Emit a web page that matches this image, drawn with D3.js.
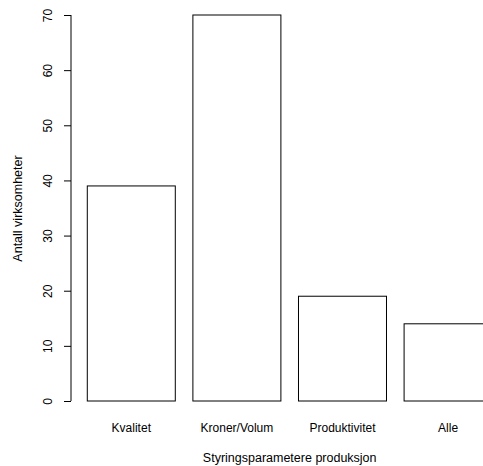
<!DOCTYPE html>
<html>
<head>
<meta charset="utf-8">
<script src="https://cdn.jsdelivr.net/npm/d3@7"></script>
<style>
  html, body { margin: 0; padding: 0; background: #fff; }
  svg { display: block; }
  text { font-family: "Liberation Sans", Arial, Helvetica, sans-serif; fill: #000; }
</style>
</head>
<body>
<svg id="chart" width="483" height="466"></svg>
<script>
const categories = ["Kvalitet", "Kroner/Volum", "Produktivitet", "Alle"];
const values = [39, 70, 19, 14];
const yTicks = [0, 10, 20, 30, 40, 50, 60, 70];
const xTitle = "Styringsparametere produksjon";
const yTitle = "Antall virksomheter";

const svg = d3.select("#chart");

// R barplot geometry: width 1, space 0.2, usr extended 4%
const n = categories.length;
const left = categories.map((d, i) => 0.2 + i * 1.2);
const xmin = 0.2, xmax = 0.2 + n * 1.2 - 0.2;
const xr = xmax - xmin;
const x = d3.scaleLinear().domain([xmin - 0.04 * xr, xmax + 0.04 * xr]).range([71.1, 71.1 + (xr * 1.08) * 88]);
const y = d3.scaleLinear().domain([0, 70]).range([401, 15]);

// bars
svg.append("g").selectAll("rect").data(values).join("rect")
  .attr("x", (d, i) => x(left[i]))
  .attr("y", d => y(d))
  .attr("width", (d, i) => x(left[i] + 1) - x(left[i]))
  .attr("height", d => y(0) - y(d))
  .attr("fill", "none")
  .attr("stroke", "#000")
  .attr("stroke-width", 1);

// y axis
const yAxis = d3.axisLeft(y).tickValues(yTicks).tickSize(7).tickPadding(0).tickFormat(d3.format("d"));
const gy = svg.append("g").attr("transform", "translate(71,0)").call(yAxis);
gy.select(".domain").attr("d", `M0,${y(0)}V${y(70)}`).attr("stroke", "#000");
gy.selectAll(".tick line").attr("stroke", "#000");
gy.selectAll(".tick text")
  .attr("x", null).attr("dy", null)
  .attr("text-anchor", "middle")
  .attr("transform", "translate(-19,0) rotate(-90) translate(0,0)")
  .style("font-size", "12px")
  .style("font-family", "'Liberation Sans', Arial, sans-serif")
  .attr("dominant-baseline", "auto")
  .attr("y", 0);
// adjust: rotated text baseline at x = -19 +? use explicit positioning
gy.selectAll(".tick text").each(function() {
  d3.select(this).attr("transform", "rotate(-90)").attr("x", 0).attr("y", -19);
});

// category labels
svg.append("g").selectAll("text").data(categories).join("text")
  .attr("x", (d, i) => x(left[i] + 0.5))
  .attr("y", 432)
  .attr("text-anchor", "middle")
  .style("font-size", "12px")
  .text(d => d);

// x title
svg.append("text")
  .attr("x", (x.range()[0] + x.range()[1]) / 2)
  .attr("y", 462)
  .attr("text-anchor", "middle")
  .style("font-size", "12.5px")
  .text(xTitle);

// y title
svg.append("text")
  .attr("transform", `translate(22,${(y.range()[0] + y.range()[1]) / 2 + 0.5}) rotate(-90)`)
  .attr("text-anchor", "middle")
  .style("font-size", "12.5px")
  .text(yTitle);
</script>
</body>
</html>
